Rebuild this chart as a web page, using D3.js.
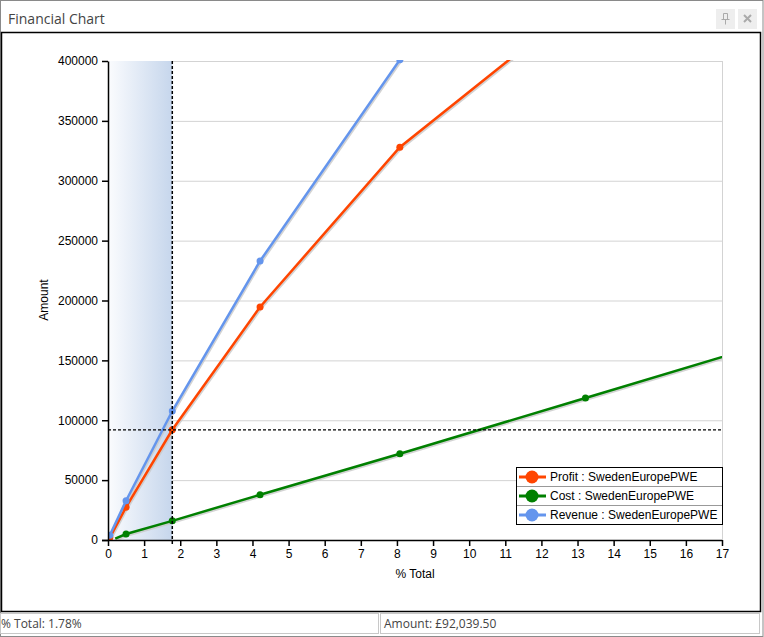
<!DOCTYPE html>
<html>
<head>
<meta charset="utf-8">
<script src="https://cdn.jsdelivr.net/npm/d3@7"></script>
<style>
body { margin: 0; background: #fff; }
svg text { font-family: "Liberation Sans", Arial, sans-serif; }
</style>
</head>
<body>
<div id="chartArea"></div>
<script>
// data
var pctTotal = [0.05, 0.5, 1.78, 4.21, 8.08, 13.22, 20];
var costPct  = [0.2, 0.5, 1.78, 4.21, 8.08, 13.22, 20];
var profit  = [2000, 27400, 92039.5, 194600, 328000, 452000, 560000];
var cost    = [1200, 5000, 16000, 37800, 72000, 118600, 180000];
var revenue = [4000, 32800, 107700, 233000, 401000, 560000, 700000];
var seriesNames = ["Profit : SwedenEuropePWE", "Cost : SwedenEuropePWE", "Revenue : SwedenEuropePWE"];
var seriesColors = ["#ff4500", "#008000", "#6495ed"];
var yTicks = [0, 50000, 100000, 150000, 200000, 250000, 300000, 350000, 400000];
var xTicks = d3.range(0, 18);
var cursorPct = 1.78, cursorAmount = 92039.5;

var W = 764, H = 637;
var plotL = 108, plotR = 722, plotT = 61, plotB = 540;

var svg = d3.select("#chartArea").append("svg")
    .attr("width", W).attr("height", H);

// window frame
svg.append("rect").attr("x", 0.5).attr("y", 0.5).attr("width", W - 1.5).attr("height", H - 1)
    .style("fill", "#fff").style("stroke", "#8a8a8a");
svg.append("text").attr("x", 8).attr("y", 24).text("Financial Chart")
    .style("font-family", "'Open Sans', 'Noto Sans', sans-serif").style("font-size", "14px").style("fill", "#444");
svg.append("rect").attr("x", 716).attr("y", 9).attr("width", 19).attr("height", 20).style("fill", "#eeeeee");
svg.append("rect").attr("x", 738).attr("y", 9).attr("width", 19).attr("height", 20).style("fill", "#eeeeee");
// pin glyph
svg.append("path").attr("d", "M723.5,13.5 h4 v6 h-4 z M721.5,19.5 h8 M725.5,19.5 v5")
    .style("fill", "none").style("stroke", "#aaa").style("stroke-width", 1);
// close glyph
svg.append("path").attr("d", "M744,15 l7,7 M751,15 l-7,7")
    .style("stroke", "#aaa").style("stroke-width", 2);

svg.append("rect").attr("x", 1.5).attr("y", 32.5).attr("width", 759).attr("height", 579)
    .style("fill", "#fff").style("stroke", "#000").style("stroke-width", 1.5);

// status bar
svg.append("rect").attr("x", 0.5).attr("y", 613.5).attr("width", 378).attr("height", 20)
    .style("fill", "#fff").style("stroke", "#c8c8c8");
svg.append("rect").attr("x", 380.5).attr("y", 613.5).attr("width", 379).attr("height", 20)
    .style("fill", "#fff").style("stroke", "#c8c8c8");
svg.append("text").attr("x", 1).attr("y", 628).text("% Total: " + cursorPct.toFixed(2) + "%")
    .style("font-family", "'Open Sans', 'Noto Sans', sans-serif").style("font-size", "12px").style("fill", "#444");
svg.append("text").attr("x", 384).attr("y", 628).text("Amount: £" + d3.format(",.2f")(cursorAmount))
    .style("font-family", "'Open Sans', 'Noto Sans', sans-serif").style("font-size", "12px").style("fill", "#444");

var x = d3.scaleLinear().domain([0, 17]).range([plotL, plotR]);
var y = d3.scaleLinear().domain([0, 400000]).range([plotB, plotT]);

var defs = svg.append("defs");
var grad = defs.append("linearGradient").attr("id", "band");
grad.append("stop").attr("offset", "0%").attr("stop-color", "#fbfcfe");
grad.append("stop").attr("offset", "100%").attr("stop-color", "#c6d6ec");
defs.append("clipPath").attr("id", "plotClip").append("rect")
    .attr("x", plotL).attr("y", plotT - 1).attr("width", plotR - plotL).attr("height", plotB - plotT + 1);

// gridlines
svg.append("g").selectAll("line").data(yTicks.slice(1)).enter().append("line")
    .attr("x1", plotL).attr("x2", plotR)
    .attr("y1", function(d) { return y(d) + 0.5; }).attr("y2", function(d) { return y(d) + 0.5; })
    .style("stroke", "#d3d3d3");
svg.append("line").attr("x1", plotR + 0.5).attr("x2", plotR + 0.5).attr("y1", plotT).attr("y2", plotB)
    .style("stroke", "#d3d3d3");

// shaded band up to cursor
svg.append("rect").attr("x", plotL).attr("y", plotT).attr("width", x(cursorPct) - plotL).attr("height", plotB - plotT)
    .style("fill", "url(#band)");

// series
var plot = svg.append("g").attr("clip-path", "url(#plotClip)");
var seriesData = [profit, cost, revenue];
var seriesX = [pctTotal, costPct, pctTotal];

function makeLine(xs) {
    return d3.line()
        .x(function(d, i) { return x(xs[i]); })
        .y(function(d) { return y(d); });
}

var drawOrder = [1, 0, 2];
drawOrder.forEach(function(s) {
    plot.append("path").datum(seriesData[s]).attr("d", makeLine(seriesX[s]))
        .attr("transform", "translate(1,1.5)")
        .style("fill", "none").style("stroke", "#c8c8c8").style("stroke-width", 2.5).style("opacity", 0.8);
});
drawOrder.forEach(function(s) {
    var xs = seriesX[s];
    plot.append("path").datum(seriesData[s]).attr("d", makeLine(xs))
        .style("fill", "none").style("stroke", seriesColors[s]).style("stroke-width", 2.5);
    plot.selectAll(null).data(seriesData[s].slice(1)).enter().append("circle")
        .attr("cx", function(d, i) { return x(xs[i + 1]); })
        .attr("cy", function(d) { return y(d); })
        .attr("r", 3.5)
        .style("fill", seriesColors[s]);
    if (s !== 1) {
        plot.append("circle").attr("cx", x(xs[0])).attr("cy", y(seriesData[s][0])).attr("r", 3.5)
            .style("fill", seriesColors[s]);
    }
});

// cursor lines
svg.append("line").attr("x1", x(cursorPct)).attr("x2", x(cursorPct)).attr("y1", plotT).attr("y2", plotB + 4)
    .style("stroke", "#000").style("stroke-width", 1.5).style("stroke-dasharray", "3,2");
svg.append("line").attr("x1", plotL).attr("x2", plotR).attr("y1", y(cursorAmount)).attr("y2", y(cursorAmount))
    .style("stroke", "#000").style("stroke-width", 1.2).style("stroke-dasharray", "3,2");

// axes
var yAxis = svg.append("g").attr("transform", "translate(" + plotL + ",0)")
    .call(d3.axisLeft(y).tickValues(yTicks).tickFormat(d3.format("d")).tickSize(6).tickSizeOuter(0).tickPadding(4));
var xAxis = svg.append("g").attr("transform", "translate(0," + plotB + ")")
    .call(d3.axisBottom(x).tickValues(xTicks).tickFormat(d3.format("d")).tickSize(6).tickSizeOuter(0).tickPadding(3));
[yAxis, xAxis].forEach(function(a) {
    a.select(".domain").style("stroke", "#000").style("stroke-width", 1.5);
    a.selectAll(".tick line").style("stroke", "#000").style("stroke-width", 1.5);
    a.selectAll(".tick text").style("font-family", "'Liberation Sans', Arial, sans-serif")
        .style("font-size", "12px").style("fill", "#000");
});
xAxis.select(".domain").attr("d", "M" + (plotL - 6) + ",0.5H" + plotR);

svg.append("text").attr("transform", "translate(48,300) rotate(-90)").attr("text-anchor", "middle")
    .text("Amount").style("font-size", "12px").style("fill", "#000");
svg.append("text").attr("x", (plotL + plotR) / 2).attr("y", 578).attr("text-anchor", "middle")
    .text("% Total").style("font-size", "12px").style("fill", "#000");

// legend
var lgX = 516, lgY = 467, rowH = 19, lgW = 206;
var legend = svg.append("g");
legend.append("rect").attr("x", lgX + 0.5).attr("y", lgY + 0.5).attr("width", lgW).attr("height", rowH * 3)
    .style("fill", "#fff").style("stroke", "#000");
seriesNames.forEach(function(name, i) {
    var cy = lgY + rowH * i + rowH / 2 + 0.5;
    if (i > 0) {
        legend.append("line").attr("x1", lgX + 1).attr("x2", lgX + lgW).attr("y1", lgY + rowH * i + 0.5).attr("y2", lgY + rowH * i + 0.5)
            .style("stroke", "#999");
    }
    legend.append("line").attr("x1", lgX + 3).attr("x2", lgX + 30).attr("y1", cy).attr("y2", cy)
        .style("stroke", seriesColors[i]).style("stroke-width", 3);
    legend.append("circle").attr("cx", lgX + 16).attr("cy", cy).attr("r", 6.5).style("fill", seriesColors[i]);
    legend.append("text").attr("x", lgX + 34).attr("y", cy + 4).text(name)
        .style("font-size", "12px").style("fill", "#000");
});
</script>
</body>
</html>
